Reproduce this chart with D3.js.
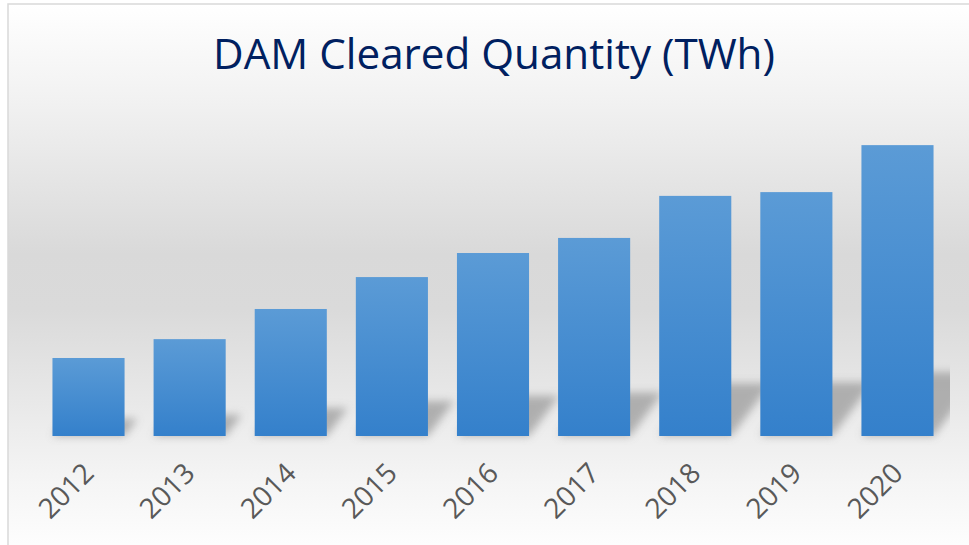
<!DOCTYPE html>
<html>
<head>
<meta charset="utf-8">
<title>DAM Cleared Quantity (TWh)</title>
<style>
    body { margin: 0; background: white; }
    svg { display: block; }
    .title { font-family: "Open Sans", sans-serif; fill: #002060; }
    .tick text { font-family: "Open Sans", sans-serif; fill: #595959; }
</style>
<script src="https://cdn.jsdelivr.net/npm/d3@7"></script>
</head>
<body>
<div id="chart"></div>
<script>
    // values (TWh, estimated)
    var years = ['2012', '2013', '2014', '2015', '2016', '2017', '2018', '2019', '2020'];
    var cleared = [26.9, 33.4, 43.8, 54.8, 63.1, 68.3, 82.8, 84.1, 100.3];
    var chartTitle = 'DAM Cleared Quantity (TWh)';

    var width = 969, height = 545;
    var baseY = 436;

    var svg = d3.select('#chart')
        .append('svg')
        .attr('width', width)
        .attr('height', height);

    var defs = svg.append('defs');

    // chart background: white -> grey -> white
    var bg = defs.append('linearGradient')
        .attr('id', 'bg')
        .attr('gradientUnits', 'userSpaceOnUse')
        .attr('x1', 0).attr('y1', 4).attr('x2', 0).attr('y2', 560);
    [[0, '#ffffff'], [0.18, '#f1f1f1'], [0.45, '#d9d9d9'], [0.55, '#dadada'],
     [0.78, '#eeeeee'], [0.86, '#f5f5f5'], [1, '#ffffff']].forEach(function(s) {
        bg.append('stop').attr('offset', s[0]).attr('stop-color', s[1]);
    });

    var barGrad = defs.append('linearGradient')
        .attr('id', 'barGrad')
        .attr('x1', 0).attr('y1', 0).attr('x2', 0).attr('y2', 1);
    barGrad.append('stop').attr('offset', 0).attr('stop-color', '#5b9bd6');
    barGrad.append('stop').attr('offset', 1).attr('stop-color', '#3480cb');

    defs.append('filter')
        .attr('id', 'blur')
        .attr('x', '-50%').attr('y', '-50%').attr('width', '200%').attr('height', '200%')
        .append('feGaussianBlur').attr('stdDeviation', 4.5);

    defs.append('clipPath')
        .attr('id', 'plotClip')
        .append('rect')
        .attr('x', 30).attr('y', 100).attr('width', 920).attr('height', 345);

    svg.append('rect')
        .attr('x', 8).attr('y', 4)
        .attr('width', 980).attr('height', 560)
        .attr('fill', 'url(#bg)')
        .attr('stroke', '#d9d9d9')
        .attr('stroke-width', 1.5);

    var x = d3.scaleBand()
        .domain(years)
        .range([38, 948])
        .paddingInner(0.287)
        .paddingOuter(0.143);

    var y = d3.scaleLinear()
        .domain([0, 100])
        .range([baseY, baseY - 290]);

    var data = years.map(function(yr, i) { return { year: yr, value: cleared[i] }; });

    // perspective shadows cast up and to the right
    svg.append('g')
        .attr('clip-path', 'url(#plotClip)')
        .selectAll('path')
        .data(data)
        .enter().append('path')
        .attr('d', function(d) {
            var x0 = x(d.year), x1 = x0 + x.bandwidth();
            var hs = (baseY - y(d.value)) * 0.22;
            var sh = hs * 0.75;
            return 'M' + x0 + ',' + baseY + 'L' + x1 + ',' + baseY +
                'L' + (x1 + sh) + ',' + (baseY - hs) + 'L' + (x0 + sh) + ',' + (baseY - hs) + 'Z';
        })
        .attr('fill', '#a0a0a0')
        .attr('opacity', 0.8)
        .attr('filter', 'url(#blur)');

    svg.append('g')
        .selectAll('rect')
        .data(data)
        .enter().append('rect')
        .attr('x', function(d) { return x(d.year); })
        .attr('y', function(d) { return y(d.value); })
        .attr('width', x.bandwidth())
        .attr('height', function(d) { return baseY - y(d.value); })
        .attr('fill', 'url(#barGrad)');

    var xAxis = svg.append('g')
        .attr('transform', 'translate(0,' + baseY + ')')
        .call(d3.axisBottom(x).tickSize(0).tickPadding(0));
    xAxis.select('.domain').remove();
    xAxis.selectAll('text')
        .attr('font-size', 28)
        .attr('text-anchor', 'end')
        .attr('dy', null)
        .attr('y', 0)
        .attr('transform', 'translate(7,39) rotate(-45)');

    var title = svg.append('text')
        .attr('class', 'title')
        .attr('x', 494)
        .attr('y', 69)
        .attr('text-anchor', 'middle')
        .attr('font-size', 40)
        .text(chartTitle);
    var tw = title.node().getComputedTextLength();
    title.attr('font-size', 40 * 562 / tw);
</script>
</body>
</html>
